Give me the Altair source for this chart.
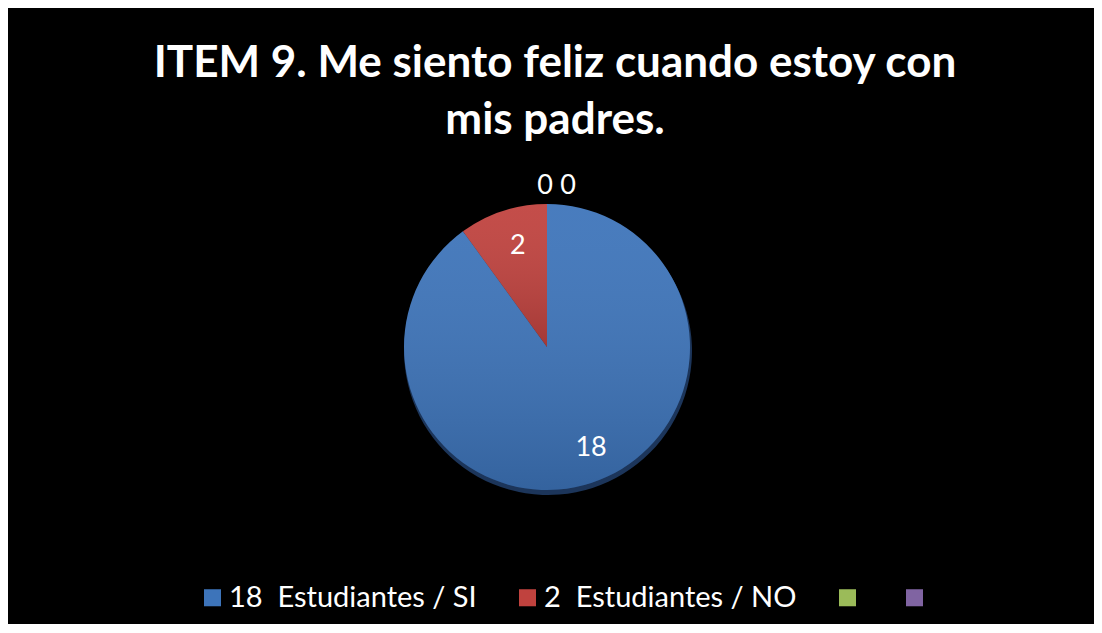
import altair as alt
import pandas as pd

# ---- data ----
categories = ["SI", "NO", "C3", "C4"]
values = [18, 2, 0, 0]
legend_labels = ["18\u00a0\u00a0Estudiantes / SI", "2\u00a0\u00a0Estudiantes / NO", "", ""]
colors = ["#3D74BA", "#C0423E", "#9BBB59", "#8064A2"]
title_lines = ["ITEM 9. Me siento feliz cuando estoy con", "mis padres."]

df = pd.DataFrame({"cat": categories, "val": values, "order": range(len(categories))})

label_expr = " : ".join(
    [f"datum.value === '{c}' ? '{l}'" for c, l in zip(categories, legend_labels)]
) + " : ''"

CX, CY, R = 539, 339, 143

theta = alt.Theta("val:Q", stack=True)
order = alt.Order("order:Q")

color = alt.Color(
    "cat:N",
    scale=alt.Scale(domain=categories, range=colors),
    sort=categories,
    legend=alt.Legend(
        orient="none",
        direction="horizontal",
        legendX=190,
        legendY=575,
        title=None,
        symbolType="square",
        symbolSize=290,
        symbolStrokeWidth=0,
        labelFont="Lato",
        labelFontSize=29,
        labelColor="white",
        labelOffset=2,
        columnPadding=36,
        labelExpr=label_expr,
        labelLimit=400,
    ),
)

shadow = alt.Chart(df).mark_arc(outerRadius=R + 1, color="#1c355a").encode(
    theta=theta, order=order,
    x=alt.value(CX + 1), y=alt.value(CY + 4),
)

pie = alt.Chart(df).mark_arc(outerRadius=R).encode(
    theta=theta, order=order, color=color,
    x=alt.value(CX), y=alt.value(CY),
)

shade = alt.Chart(df).mark_arc(
    outerRadius=R,
    color=alt.Gradient(
        gradient="linear",
        stops=[alt.GradientStop(color="rgba(255,255,255,0.06)", offset=0),
               alt.GradientStop(color="rgba(0,0,0,0.15)", offset=1)],
        x1=0, x2=0, y1=0, y2=1,
    ),
).encode(theta=theta, order=order, x=alt.value(CX), y=alt.value(CY))

def text_layer(cond, radius, dx=0, dy=0):
    return alt.Chart(df).mark_text(
        radius=radius, dx=dx, dy=dy, font="Lato", fontSize=27, color="white", baseline="middle"
    ).encode(
        theta=theta, order=order,
        x=alt.value(CX), y=alt.value(CY),
        text=alt.condition(cond, alt.Text("val:Q"), alt.value("")),
    )

label_si = text_layer("datum.cat === 'SI'", 107, dx=11, dy=-1)
label_no = text_layer("datum.cat === 'NO'", 107, dx=4, dy=1)
label_z1 = text_layer("datum.cat === 'C3'", 161, dx=-2)
label_z2 = text_layer("datum.cat === 'C4'", 161, dx=21)

chart = alt.layer(shadow, pie, shade, label_si, label_no, label_z1, label_z2).properties(
    width=1086,
    height=616,
    background="black",
    padding=0,
    autosize=alt.AutoSizeParams(type="none"),
    title=alt.TitleParams(
        text=title_lines,
        font="Lato",
        fontSize=44,
        fontWeight="bold",
        color="white",
        anchor="middle",
        frame="group",
        orient="top",
        baseline="alphabetic",
        offset=0,
        dx=4,
        dy=170,
        lineHeight=57,
    ),
).configure_view(stroke=None)

chart.save("out.html", embed_options={"renderer": "svg", "actions": False})
